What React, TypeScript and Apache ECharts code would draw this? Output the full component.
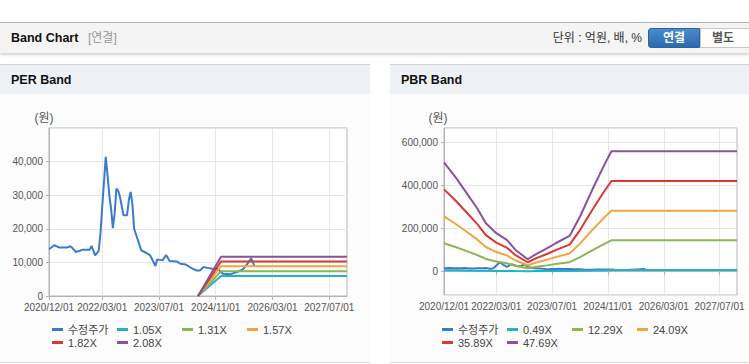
import React, { useEffect, useRef } from 'react';
import * as echarts from 'echarts';

const FONT = '"Liberation Sans", "Noto Sans CJK KR", sans-serif';

// ---------- categories (semi-monthly, 2020/12/01 .. 2027/12/01) ----------
const categories: string[] = [];
for (let k = 0; k <= 168; k++) {
  const mo = Math.floor(k / 2);
  const y = 2020 + Math.floor((11 + mo) / 12);
  const m = ((11 + mo) % 12) + 1;
  categories.push(`${y}/${String(m).padStart(2, '0')}/${k % 2 ? '16' : '01'}`);
}
const xTickLabels = ['2020/12/01', '2022/03/01', '2023/07/01', '2024/11/01', '2026/03/01', '2027/07/01'];

// ---------- price (수정주가) ----------
const priceDates = [
  '2020/12/01', '2021/01/16', '2021/03/01', '2021/05/01', '2021/06/01', '2021/06/16', '2021/07/16', '2021/08/16',
  '2021/09/16', '2021/11/16', '2021/12/01', '2022/01/01', '2022/02/01', '2022/02/16', '2022/03/01', '2022/04/01',
  '2022/04/16', '2022/05/01', '2022/05/16', '2022/06/01', '2022/06/16', '2022/07/01', '2022/07/16', '2022/08/01',
  '2022/09/01', '2022/10/01', '2022/10/16', '2022/11/01', '2022/11/16', '2022/12/01', '2023/01/01', '2023/02/01',
  '2023/03/16', '2023/04/16', '2023/05/01', '2023/06/01', '2023/06/16', '2023/08/01', '2023/09/01', '2023/10/01',
  '2023/12/01', '2024/01/01', '2024/02/16', '2024/04/01', '2024/05/16', '2024/06/16', '2024/07/16', '2024/09/01',
  '2024/10/01', '2024/11/16', '2025/01/01', '2025/03/01', '2025/05/01', '2025/06/16', '2025/07/01', '2025/08/01',
  '2025/09/01', '2025/10/01',
];
const priceValues = [
  13900, 15100, 14400, 14400, 14800, 14400, 13100, 13400,
  13800, 13800, 14900, 12100, 13400, 18600, 26500, 41400,
  36000, 30000, 26000, 20200, 24500, 32000, 31300, 29500,
  24000, 24000, 28500, 31000, 27500, 20000, 16800, 13600,
  12800, 12100, 11100, 8900, 10900, 10600, 12200, 10400,
  10300, 9600, 9400, 8400, 7600, 7600, 8600, 8300,
  8100, 8100, 6650, 6450, 7150, 7850, 8300, 9700,
  11200, 8700,
];

// ---------- PER bands ----------
const perNames = ['1.05X', '1.31X', '1.57X', '1.82X', '2.08X'];
const perDates = ['2024/06/01', '2024/12/16', '2027/12/01'];
const per105 = [0, 5920, 5920];
const per131 = [0, 7400, 7400];
const per157 = [0, 8860, 8860];
const per182 = [0, 10250, 10250];
const per208 = [0, 11700, 11700];

// ---------- PBR bands ----------
const pbrNames = ['0.49X', '12.29X', '24.09X', '35.89X', '47.69X'];
const pbrDates = [
  '2020/12/01', '2021/03/16', '2021/06/16', '2021/09/16', '2021/12/01', '2022/03/01', '2022/06/01', '2022/08/16',
  '2022/12/01', '2023/02/16', '2023/05/16', '2023/08/01', '2023/12/01', '2024/03/01', '2024/06/16', '2024/10/01',
  '2024/12/01', '2027/12/01',
];
const pbr049 = [5200, 4400, 3700, 3000, 2300, 1800, 1500, 1000, 600, 800, 1100, 1300, 1700, 2600, 3900, 5100, 5700, 5700];
const pbr1229 = [130200, 111300, 93500, 75500, 57500, 45600, 37600, 25600, 14400, 20900, 27500, 33600, 42300, 65500, 97500, 127600, 143500, 143500];
const pbr2409 = [255100, 218300, 183300, 147900, 112700, 89400, 73700, 50100, 28200, 41000, 54000, 65800, 82900, 128400, 191000, 250100, 281400, 281400];
const pbr3589 = [380100, 325200, 273100, 220400, 168000, 133200, 109800, 74700, 42000, 61000, 80400, 98000, 123500, 191300, 284600, 372500, 419200, 419200];
const pbr4769 = [505000, 432100, 362900, 292800, 223200, 176900, 145900, 99200, 55800, 81100, 106800, 130200, 164100, 254200, 378200, 495000, 557000, 557000];

const COLORS = ['#3a7bd0', '#20b3c8', '#8fb552', '#f2a53c', '#d63a33', '#8e4f9e'];
const PRICE_NAME = '수정주가';

const pairs = (dates: string[], vals: number[]) => dates.map((d, i) => [d, vals[i]]);
const tickFn = (_i: number, v: string) => xTickLabels.indexOf(v) >= 0;

function buildOption(opts: {
  grid: any;
  yAxis: any;
  bandNames: string[];
  bandDates: string[];
  bandValues: number[][];
  namePad: number;
}) {
  const names = [PRICE_NAME, ...opts.bandNames];
  const cols = [52, 117, 182, 247];
  const rows = [231, 244];
  const legends = names.map((n, i) => ({
    data: [n],
    left: cols[i % 4],
    top: rows[Math.floor(i / 4)],
    padding: 0,
    icon: 'rect',
    itemWidth: 11,
    itemHeight: 3,
    selectedMode: false,
    textStyle: { fontSize: 11, color: '#444', fontFamily: FONT },
  }));
  const series: any[] = [
    {
      name: PRICE_NAME,
      type: 'line',
      data: pairs(priceDates, priceValues),
      showSymbol: false,
      symbol: 'none',
      lineStyle: { width: 2, color: COLORS[0] },
      itemStyle: { color: COLORS[0] },
    },
    ...opts.bandNames.map((n, i) => ({
      name: n,
      type: 'line',
      data: pairs(opts.bandDates, opts.bandValues[i]),
      showSymbol: false,
      symbol: 'none',
      lineStyle: { width: 2, color: COLORS[i + 1] },
      itemStyle: { color: COLORS[i + 1] },
    })),
  ];
  return {
    animation: false,
    textStyle: { fontFamily: FONT },
    grid: { ...opts.grid, show: true, borderColor: '#b4b4b4', borderWidth: 1, backgroundColor: '#ffffff' },
    legend: legends,
    xAxis: {
      type: 'category',
      data: categories,
      boundaryGap: false,
      axisLine: { lineStyle: { color: '#b4b4b4' } },
      axisTick: { show: true, length: 4, interval: tickFn, lineStyle: { color: '#b4b4b4' } },
      axisLabel: { interval: tickFn, color: '#555', fontSize: 10, fontFamily: FONT, margin: 6 },
      splitLine: { show: true, interval: tickFn, lineStyle: { color: '#e6e6e6' } },
    },
    yAxis: {
      type: 'value',
      ...opts.yAxis,
      name: '(원)',
      nameLocation: 'end',
      nameGap: 4,
      nameTextStyle: { color: '#555', fontSize: 12, fontFamily: FONT, padding: [0, opts.namePad, 0, 0] },
      axisLine: { show: true, lineStyle: { color: '#b4b4b4' } },
      axisTick: { show: true, length: 3, lineStyle: { color: '#b4b4b4' } },
      axisLabel: {
        color: '#555',
        fontSize: 10,
        fontFamily: FONT,
        margin: 6,
        showMinLabel: opts.yAxis.min === 0,
        showMaxLabel: false,
        formatter: (v: number) => Math.round(v).toLocaleString('en-US'),
      },
      splitLine: { show: true, lineStyle: { color: '#e6e6e6' } },
    },
    series,
  };
}

function Chart({ option, style }: { option: any; style: React.CSSProperties }) {
  const ref = useRef<HTMLDivElement>(null);
  useEffect(() => {
    const chart = echarts.init(ref.current!, null, { renderer: 'svg' });
    chart.setOption(option);
    return () => chart.dispose();
  }, []);
  return <div ref={ref} style={style} />;
}

export default function App() {
  const perOption = buildOption({
    grid: { left: 49, top: 35, width: 298, height: 168 },
    yAxis: { min: 0, max: 50000, interval: 10000 },
    bandNames: perNames,
    bandDates: perDates,
    bandValues: [per105, per131, per157, per182, per208],
    namePad: 10,
  });
  const pbrOption = buildOption({
    grid: { left: 54, top: 35, width: 293, height: 167 },
    yAxis: { min: -110000, max: 665000, splitNumber: 4 },
    bandNames: pbrNames,
    bandDates: pbrDates,
    bandValues: [pbr049, pbr1229, pbr2409, pbr3589, pbr4769],
    namePad: 12,
  });

  const boldText: React.CSSProperties = { position: 'absolute', fontWeight: 'bold', fontSize: 12.5, color: '#111', fontFamily: FONT, lineHeight: '16px' };

  return (
    <div style={{ position: 'absolute', left: 0, top: 0, width: 749, height: 364, overflow: 'hidden', background: '#fff', fontFamily: FONT }}>
      {/* header bar */}
      <div style={{ position: 'absolute', left: 0, top: 22, width: 749, height: 30, background: '#f4f4f4', borderTop: '1px solid #b4b4b4', boxShadow: '0 2px 3px rgba(0,0,0,0.18)' }} />
      <div style={{ ...boldText, left: 11, top: 30 }}>Band Chart</div>
      <div style={{ position: 'absolute', left: 88, top: 30, fontSize: 12, color: '#999', lineHeight: '16px' }}>[연결]</div>
      <div style={{ position: 'absolute', right: 107, top: 30, fontSize: 12, color: '#333', lineHeight: '16px' }}>단위 : 억원, 배, %</div>
      <div style={{ position: 'absolute', left: 648, top: 28, width: 52, height: 20, boxSizing: 'border-box', background: 'linear-gradient(#4b8bd0, #2a69ab)', border: '1px solid #2a63a0', borderRadius: '3px 0 0 3px', color: '#fff', fontWeight: 'bold', fontSize: 12, textAlign: 'center', lineHeight: '18px' }}>연결</div>
      <div style={{ position: 'absolute', left: 700, top: 28, width: 52, height: 20, boxSizing: 'border-box', background: '#fff', border: '1px solid #c8c8c8', color: '#555', fontWeight: 'bold', fontSize: 12, textAlign: 'center', lineHeight: '18px', paddingRight: 6 }}>별도</div>

      {/* left panel */}
      <div style={{ position: 'absolute', left: 0, top: 64, width: 370, height: 29, background: '#eef1f6', borderTop: '1px solid #d4d4d4' }} />
      <div style={{ ...boldText, left: 11, top: 72 }}>PER Band</div>
      <div style={{ position: 'absolute', left: 0, top: 94, width: 370, height: 268, background: '#fcfcfc', borderBottom: '1px solid #dcdcdc' }} />
      <Chart option={perOption} style={{ position: 'absolute', left: 0, top: 93, width: 370, height: 269 }} />

      {/* right panel */}
      <div style={{ position: 'absolute', left: 390, top: 64, width: 359, height: 29, background: '#eef1f6', borderTop: '1px solid #d4d4d4' }} />
      <div style={{ ...boldText, left: 401, top: 72 }}>PBR Band</div>
      <div style={{ position: 'absolute', left: 390, top: 94, width: 359, height: 268, background: '#fcfcfc', borderBottom: '1px solid #dcdcdc' }} />
      <Chart option={pbrOption} style={{ position: 'absolute', left: 390, top: 93, width: 359, height: 269 }} />
    </div>
  );
}
